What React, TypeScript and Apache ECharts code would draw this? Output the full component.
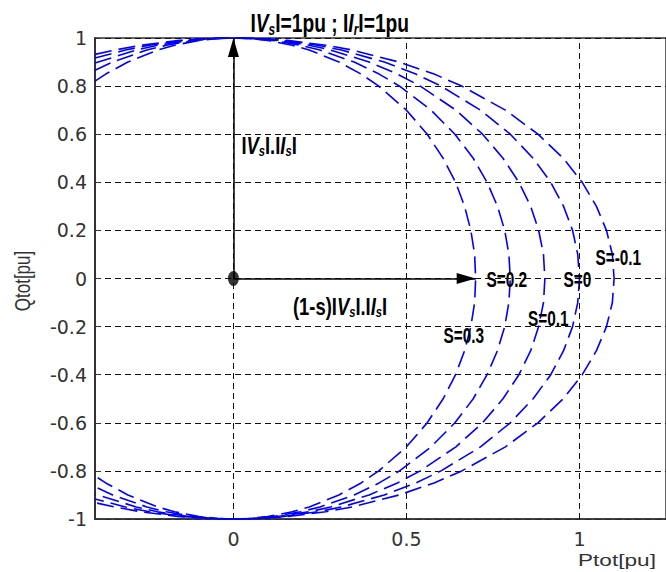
import React, { useEffect, useRef } from 'react';
import * as echarts from 'echarts';

const slipLabels = ['S=0.3', 'S=0.2', 'S=0.1', 'S=0', 'S=-0.1'];
const xTickValues = [0, 0.5, 1];

const curveS03 = [[-0.4,0.821],[-0.369,0.85],[-0.305,0.9],[-0.219,0.95],[-0.17,0.97],[-0.099,0.99],[-0.044,0.998],[0,1],[0.044,0.998],[0.099,0.99],[0.17,0.97],[0.219,0.95],[0.305,0.9],[0.369,0.85],[0.42,0.8],[0.5,0.7],[0.56,0.6],[0.606,0.5],[0.642,0.4],[0.668,0.3],[0.686,0.2],[0.697,0.1],[0.7,0],[0.697,-0.1],[0.686,-0.2],[0.668,-0.3],[0.642,-0.4],[0.606,-0.5],[0.56,-0.6],[0.5,-0.7],[0.42,-0.8],[0.369,-0.85],[0.305,-0.9],[0.219,-0.95],[0.17,-0.97],[0.099,-0.99],[0.044,-0.998],[0,-1],[-0.044,-0.998],[-0.099,-0.99],[-0.17,-0.97],[-0.219,-0.95],[-0.305,-0.9],[-0.369,-0.85],[-0.4,-0.821]];
const curveS02 = [[-0.4,0.866],[-0.349,0.9],[-0.25,0.95],[-0.194,0.97],[-0.113,0.99],[-0.051,0.998],[0,1],[0.051,0.998],[0.113,0.99],[0.194,0.97],[0.25,0.95],[0.349,0.9],[0.421,0.85],[0.48,0.8],[0.571,0.7],[0.64,0.6],[0.693,0.5],[0.733,0.4],[0.763,0.3],[0.784,0.2],[0.796,0.1],[0.8,0],[0.796,-0.1],[0.784,-0.2],[0.763,-0.3],[0.733,-0.4],[0.693,-0.5],[0.64,-0.6],[0.571,-0.7],[0.48,-0.8],[0.421,-0.85],[0.349,-0.9],[0.25,-0.95],[0.194,-0.97],[0.113,-0.99],[0.051,-0.998],[0,-1],[-0.051,-0.998],[-0.113,-0.99],[-0.194,-0.97],[-0.25,-0.95],[-0.349,-0.9],[-0.4,-0.866]];
const curveS01 = [[-0.4,0.896],[-0.281,0.95],[-0.219,0.97],[-0.127,0.99],[-0.057,0.998],[0,1],[0.057,0.998],[0.127,0.99],[0.219,0.97],[0.281,0.95],[0.392,0.9],[0.474,0.85],[0.54,0.8],[0.643,0.7],[0.72,0.6],[0.779,0.5],[0.825,0.4],[0.859,0.3],[0.882,0.2],[0.896,0.1],[0.9,0],[0.896,-0.1],[0.882,-0.2],[0.859,-0.3],[0.825,-0.4],[0.779,-0.5],[0.72,-0.6],[0.643,-0.7],[0.54,-0.8],[0.474,-0.85],[0.392,-0.9],[0.281,-0.95],[0.219,-0.97],[0.127,-0.99],[0.057,-0.998],[0,-1],[-0.057,-0.998],[-0.127,-0.99],[-0.219,-0.97],[-0.281,-0.95],[-0.4,-0.896]];
const curveS00 = [[-0.4,0.917],[-0.312,0.95],[-0.243,0.97],[-0.141,0.99],[-0.063,0.998],[0,1],[0.063,0.998],[0.141,0.99],[0.243,0.97],[0.312,0.95],[0.436,0.9],[0.527,0.85],[0.6,0.8],[0.714,0.7],[0.8,0.6],[0.866,0.5],[0.917,0.4],[0.954,0.3],[0.98,0.2],[0.995,0.1],[1,0],[0.995,-0.1],[0.98,-0.2],[0.954,-0.3],[0.917,-0.4],[0.866,-0.5],[0.8,-0.6],[0.714,-0.7],[0.6,-0.8],[0.527,-0.85],[0.436,-0.9],[0.312,-0.95],[0.243,-0.97],[0.141,-0.99],[0.063,-0.998],[0,-1],[-0.063,-0.998],[-0.141,-0.99],[-0.243,-0.97],[-0.312,-0.95],[-0.4,-0.917]];
const curveSm01 = [[-0.4,0.932],[-0.343,0.95],[-0.267,0.97],[-0.155,0.99],[-0.07,0.998],[0,1],[0.07,0.998],[0.155,0.99],[0.267,0.97],[0.343,0.95],[0.479,0.9],[0.58,0.85],[0.66,0.8],[0.786,0.7],[0.88,0.6],[0.953,0.5],[1.008,0.4],[1.049,0.3],[1.078,0.2],[1.095,0.1],[1.1,0],[1.095,-0.1],[1.078,-0.2],[1.049,-0.3],[1.008,-0.4],[0.953,-0.5],[0.88,-0.6],[0.786,-0.7],[0.66,-0.8],[0.58,-0.85],[0.479,-0.9],[0.343,-0.95],[0.267,-0.97],[0.155,-0.99],[0.07,-0.998],[0,-1],[-0.07,-0.998],[-0.155,-0.99],[-0.267,-0.97],[-0.343,-0.95],[-0.4,-0.932]];
const curves = [curveS03, curveS02, curveS01, curveS00, curveSm01];

const vsVector = [[0, 0], [0, 1]];
const pVector = [[0, 0], [0.7, 0]];

export default function App() {
  const ref = useRef<HTMLDivElement>(null);
  useEffect(() => {
    const chart = echarts.init(ref.current!, null, { renderer: 'svg' });
    const tickFont = { color: '#333', fontFamily: 'DejaVu Sans', fontSize: 19 };
    const gridDash = { color: '#111', width: 1, type: [6, 4] as any };
    chart.setOption({
      animation: false,
      backgroundColor: '#fff',
      grid: { left: 95, top: 38, width: 576, height: 481, show: true, borderColor: '#333', borderWidth: 1.5 },
      xAxis: {
        type: 'value', min: -0.4, max: 1.25,
        axisLine: { onZero: false, lineStyle: { color: '#333', width: 1.5 } },
        axisTick: { inside: true, length: 6, customValues: xTickValues, lineStyle: { color: '#333' } },
        axisLabel: { customValues: xTickValues, margin: 10, ...tickFont, formatter: (v: number) => String(v) },
        splitLine: { show: false },
      },
      yAxis: {
        type: 'value', min: -1, max: 1, interval: 0.2,
        axisLine: { onZero: false, lineStyle: { color: '#333', width: 2 } },
        axisTick: { inside: true, length: 6, lineStyle: { color: '#333' } },
        axisLabel: { margin: 8, ...tickFont },
        splitLine: { show: true, lineStyle: gridDash },
      },
      series: [
        {
          type: 'line', data: [], z: 1, silent: true,
          markLine: {
            silent: true, symbol: 'none', label: { show: false },
            lineStyle: gridDash,
            data: xTickValues.map((v) => ({ xAxis: v })),
          },
        },
        ...curves.map((c, i) => ({
          type: 'line', name: slipLabels[i], data: c, showSymbol: false, z: 3, silent: true,
          lineStyle: { color: '#0000ff', width: 1.6, type: [17, 7] },
        })),
        {
          type: 'line', data: [], z: 5, silent: true,
          markLine: {
            silent: true, symbol: ['none', 'path://M5,0L5,0M5,20L10,40L0,40Z'], symbolSize: [11, 38],
            label: { show: false },
            lineStyle: { color: '#000', width: 1.5, type: 'solid' },
            itemStyle: { color: '#000' },
            data: [
              [{ coord: vsVector[0] }, { coord: vsVector[1] }],
              [{ coord: pVector[0] }, { coord: pVector[1] }],
            ],
          },
        },
        {
          type: 'scatter', data: [[0, 0]], z: 6, silent: true,
          symbol: 'path://M50,0A50,50,0,1,1,50,100A50,50,0,1,1,50,0Z', symbolSize: [11, 15],
          itemStyle: { color: '#000' },
        },
      ],
    });

    const px = (p: number[]) => chart.convertToPixel({ xAxisIndex: 0, yAxisIndex: 0 }, p) as number[];
    const richFor = (F: number) => ({
      n: { fontFamily: 'Liberation Sans', fontWeight: 'bold', fontSize: F, lineHeight: F + 2, fill: '#000' },
      i: { fontFamily: 'Liberation Sans', fontWeight: 'bold', fontStyle: 'italic', fontSize: F, lineHeight: F + 2, fill: '#000' },
      sub: { fontFamily: 'Liberation Sans', fontWeight: 'bold', fontStyle: 'italic', fontSize: Math.round(F * 0.62), lineHeight: Math.round(F * 0.62), verticalAlign: 'bottom', fill: '#000' },
    });
    const richText = (at: number[], text: string, F: number, sx: number) => {
      const [x, y] = px(at);
      return {
        type: 'text', x, y, scaleX: sx, z: 100, silent: true,
        style: { text, rich: richFor(F), fontFamily: 'Liberation Sans', fontWeight: 'bold', fontSize: F, align: 'left', verticalAlign: 'middle', fill: '#000' },
      };
    };
    const plain = (at: number[], text: string) => {
      const [x, y] = px(at);
      return {
        type: 'text', x, y, scaleX: 0.7, z: 100, silent: true,
        style: { text, fontFamily: 'Liberation Sans', fontWeight: 'bold', fontSize: 22, align: 'left', verticalAlign: 'middle', fill: '#000' },
      };
    };
    const slipAnchors = [[0.607, -0.235], [0.731, -0.006], [0.851, -0.168], [0.954, -0.006], [1.046, 0.089]];
    chart.setOption({
      graphic: [
        richText([0.049, 1.062], '{n|I}{i|V}{sub|s}{n|I=1pu ; I}{i|I}{sub|r}{n|I=1pu}', 26, 0.74),
        richText([0.023, 0.551], '{n|I}{i|V}{sub|s}{n|I.I}{i|I}{sub|s}{n|I}', 23, 0.8),
        richText([0.172, -0.118], '{n|(1-s)I}{i|V}{sub|s}{n|I.I}{i|I}{sub|s}{n|I}', 23, 0.8),
        ...slipLabels.map((s, i) => plain(slipAnchors[i], s)),
        {
          type: 'text', x: 578, y: 560, scaleX: 1.33, z: 100, silent: true,
          style: { text: 'Ptot[pu]', fontFamily: 'Liberation Sans', fontSize: 17, fill: '#333', align: 'left', verticalAlign: 'middle' },
        },
        {
          type: 'text', x: 22, y: 281, rotation: Math.PI / 2, scaleY: 1.3, z: 100, silent: true,
          style: { text: 'Qtot[pu]', fontFamily: 'Liberation Sans', fontSize: 17, fill: '#333', align: 'center', verticalAlign: 'middle' },
        },
      ],
    });
    return () => chart.dispose();
  }, []);
  return <div ref={ref} style={{ position: 'fixed', left: 0, top: 0, width: 666, height: 572 }} />;
}
